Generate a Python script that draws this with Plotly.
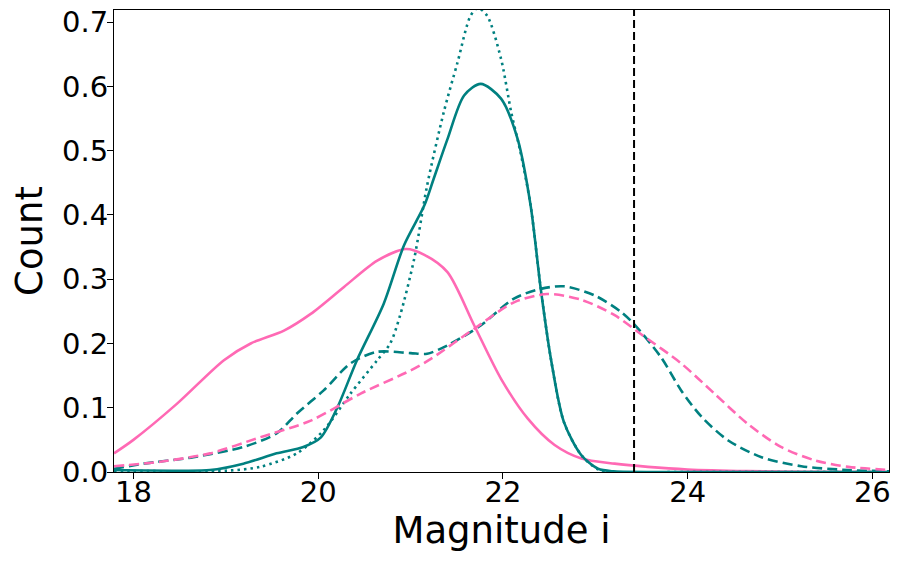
import plotly.graph_objects as go

# magnitude grids and density values
mag_pink_solid = [17.79, 18.0, 18.47, 18.98, 19.27, 19.63, 19.92, 20.28, 20.64, 20.95, 21.15,
                  21.40, 21.69, 21.98, 22.27, 22.56, 22.85, 23.21, 23.57, 24.0, 24.65, 25.3, 26.2]
val_pink_solid = [0.029, 0.050, 0.106, 0.174, 0.200, 0.220, 0.246, 0.288, 0.329, 0.347, 0.338,
                  0.311, 0.228, 0.145, 0.083, 0.042, 0.021, 0.013, 0.008, 0.004, 0.0015, 0.0005, 0.0]

mag_teal_solid = [17.79, 18.5, 18.83, 19.19, 19.55, 19.84, 20.03, 20.21, 20.42, 20.71, 20.93, 21.15,
                  21.25, 21.40, 21.58, 21.76, 21.98, 22.16, 22.30, 22.41, 22.52, 22.66, 22.85, 23.03,
                  23.2, 24.0, 26.2]
val_teal_solid = [0.003, 0.002, 0.003, 0.013, 0.029, 0.039, 0.054, 0.101, 0.174, 0.262, 0.353, 0.415,
                  0.456, 0.518, 0.586, 0.604, 0.581, 0.518, 0.415, 0.285, 0.176, 0.078, 0.026, 0.005,
                  0.001, 0.0, 0.0]

mag_teal_dot = [17.79, 19.0, 19.37, 19.77, 20.06, 20.35, 20.64, 20.78, 20.89, 21.04, 21.18, 21.36,
                21.51, 21.65, 21.73, 21.83, 21.98, 22.09, 22.19, 22.30, 22.41, 22.52, 22.66, 22.85,
                23.03, 23.2, 24.0, 26.2]
val_teal_dot = [0.002, 0.002, 0.008, 0.029, 0.065, 0.122, 0.174, 0.200, 0.245, 0.332, 0.446, 0.56,
                0.638, 0.71, 0.722, 0.71, 0.643, 0.56, 0.498, 0.415, 0.285, 0.176, 0.078, 0.026,
                0.004, 0.0, 0.0, 0.0]

mag_teal_dash = [17.79, 18.11, 18.65, 19.19, 19.55, 19.77, 20.06, 20.35, 20.64, 21.0, 21.18, 21.40,
                 21.76, 22.12, 22.41, 22.66, 22.99, 23.28, 23.42, 23.71, 23.93, 24.15, 24.44, 24.8,
                 25.23, 25.74, 26.2]
val_teal_dash = [0.005, 0.013, 0.023, 0.039, 0.060, 0.091, 0.127, 0.169, 0.187, 0.185, 0.184, 0.197,
                 0.228, 0.270, 0.285, 0.289, 0.275, 0.249, 0.230, 0.179, 0.127, 0.086, 0.049, 0.023,
                 0.009, 0.003, 0.001]

mag_pink_dash = [17.79, 18.29, 18.83, 19.37, 19.92, 20.46, 21.0, 21.22, 21.69, 22.12, 22.48, 22.85,
                 23.21, 23.50, 23.93, 24.29, 24.65, 25.01, 25.38, 25.74, 26.2]
val_pink_dash = [0.009, 0.016, 0.029, 0.054, 0.080, 0.122, 0.158, 0.176, 0.223, 0.264, 0.277, 0.268,
                 0.244, 0.214, 0.169, 0.122, 0.075, 0.039, 0.018, 0.008, 0.003]

mag_cut = 23.42

PINK = '#ff69b4'
TEAL = '#008080'

curves = [
    (mag_pink_solid, val_pink_solid, PINK, 'solid'),
    (mag_teal_solid, val_teal_solid, TEAL, 'solid'),
    (mag_teal_dot, val_teal_dot, TEAL, '2.5px,4px'),
    (mag_teal_dash, val_teal_dash, TEAL, '10px,5px'),
    (mag_pink_dash, val_pink_dash, PINK, '10px,5px'),
]

fig = go.Figure()
for xs, ys, col, dash in curves:
    fig.add_trace(go.Scatter(x=xs, y=ys, mode='lines',
                             line=dict(color=col, width=2.6, dash=dash, shape='spline', smoothing=0.8),
                             showlegend=False))

fig.add_vline(x=mag_cut, line=dict(color='black', width=2, dash='8px,4px'))

axis_common = dict(showline=True, linecolor='black', linewidth=1, mirror=True,
                   ticks='outside', ticklen=6, tickcolor='black', showgrid=False,
                   zeroline=False, automargin=False, ticklabeloverflow='allow',
                   tickfont=dict(size=29, color='black'))

# the page body has an 8px margin, so the margins below are shifted to compensate
fig.update_layout(
    width=901, height=566,
    margin=dict(l=106, r=20, t=2, b=102),
    plot_bgcolor='white', paper_bgcolor='white',
    font=dict(family='DejaVu Sans', color='black'),
    xaxis=dict(range=[17.79, 26.18], tickvals=[18, 20, 22, 24, 26], ticklabelstandoff=-12,
               title=dict(text='Magnitude i', font=dict(size=37), standoff=5), **axis_common),
    yaxis=dict(range=[0, 0.719], tickvals=[0, 0.1, 0.2, 0.3, 0.4, 0.5, 0.6, 0.7], tickformat='.1f',
               ticklabelstandoff=-7,
               title=dict(text='Count', font=dict(size=37), standoff=8), **axis_common),
)

fig.write_html('out.html')
